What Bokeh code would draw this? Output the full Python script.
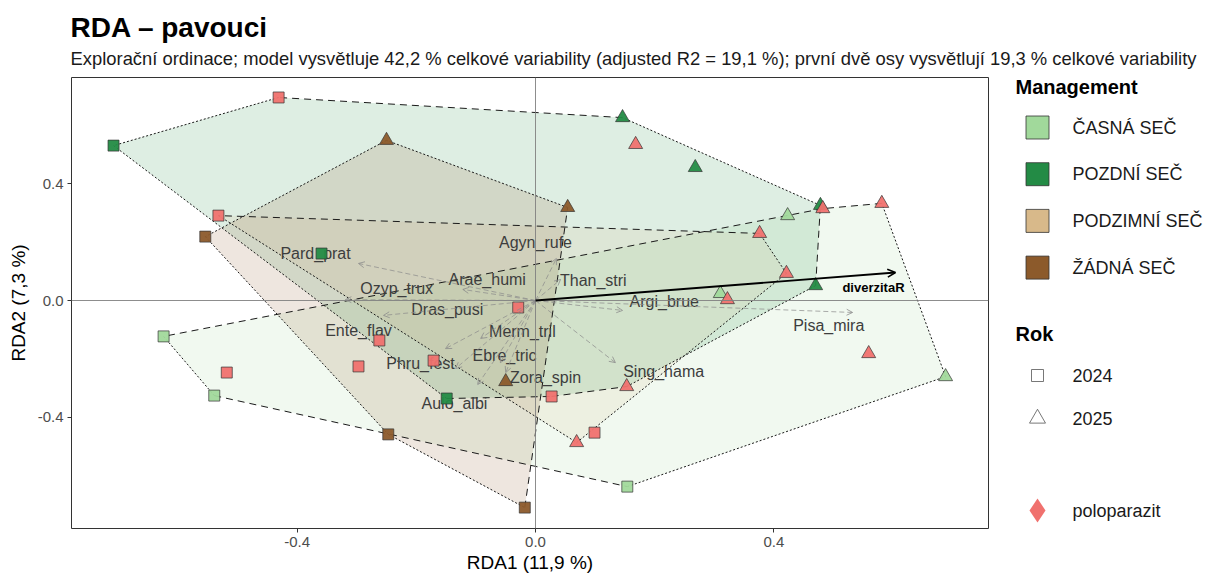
import math
from bokeh.plotting import figure
from bokeh.models import Range1d, FixedTicker, Span, Arrow, OpenHead, ColumnDataSource
from bokeh.layouts import column, row
from bokeh.embed import file_html
from bokeh.resources import INLINE
from bokeh.core.properties import value

FONT = "Liberation Sans"

# ---------------- data ----------------
title = "RDA – pavouci"
subtitle = ("Explorační ordinace; model vysvětluje 42,2 % celkové variability "
            "(adjusted R2 = 19,1 %); první dvě osy vysvětlují 19,3 % celkové variability")
x_title = "RDA1 (11,9 %)"
y_title = "RDA2 (7,3 %)"

management = ["ČASNÁ SEČ", "POZDNÍ SEČ", "PODZIMNÍ SEČ", "ŽÁDNÁ SEČ"]
man_colors = ["#A1D99B", "#238B45", "#D8B98A", "#8C5A2B"]
years = ["2024", "2025"]
pp_name = "poloparazit"
pp_color = "#F0716E"

# site scores (management index, year, semiparasite present, RDA1, RDA2)
site_mgmt = [0, 0, 0, 0, 0, 0, 0, 0, 0, 0, 0,
             1, 1, 1, 1, 1, 1, 1, 1, 1, 1, 1,
             2, 2, 2, 2, 2, 2,
             3, 3, 3, 3, 3, 3, 3, 3, 3]
site_year = ["2024", "2024", "2024", "2025", "2025", "2025", "2024", "2024", "2025", "2025", "2025",
             "2024", "2024", "2024", "2025", "2025", "2025", "2025", "2024", "2024", "2025", "2025",
             "2024", "2024", "2025", "2025", "2025", "2025",
             "2024", "2024", "2024", "2025", "2025", "2025", "2024", "2024", "2024"]
site_pp = [0, 0, 0, 0, 0, 0, 1, 1, 1, 1, 1,
           0, 0, 0, 0, 0, 0, 0, 1, 1, 1, 1,
           1, 1, 1, 1, 1, 1,
           0, 0, 0, 0, 0, 0, 1, 1, 1]
site_x = [-0.624, -0.539, 0.154, 0.423, 0.310, 0.688, -0.518, 0.099, 0.559, 0.581, 0.482,
          -0.708, -0.359, -0.149, 0.146, 0.268, 0.470, 0.478, -0.431, 0.027, 0.153, 0.168,
          -0.532, -0.029, 0.376, 0.421, 0.322, 0.069,
          -0.554, -0.247, -0.018, -0.250, 0.054, -0.050, -0.262, -0.171, -0.297]
site_y = [-0.123, -0.326, -0.638, 0.291, 0.024, -0.261, -0.247, -0.453, -0.182, 0.333, 0.315,
          0.531, 0.161, -0.336, 0.627, 0.456, 0.051, 0.326, 0.696, -0.329, -0.295, 0.535,
          0.291, -0.024, 0.230, 0.093, 0.003, -0.487,
          0.219, -0.459, -0.710, 0.549, 0.319, -0.278, -0.137, -0.206, -0.226]

# species scores (arrow tips) and label positions
species = ["Agyn_rufe", "Pard_prat", "Arae_humi", "Than_stri", "Ozyp_trux", "Argi_brue",
           "Dras_pusi", "Ente_flav", "Merm_tril", "Pisa_mira", "Ebre_tric", "Phru_fest",
           "Zora_spin", "Sing_hama", "Aulo_albi"]
sp_x = [0.035, -0.297, -0.122, 0.042, -0.319, 0.146, -0.255, -0.151, -0.092, 0.532,
        -0.059, -0.134, -0.050, 0.134, -0.097]
sp_y = [0.144, 0.127, 0.038, 0.072, 0.003, -0.034, -0.051, -0.165, -0.130, -0.041,
        -0.213, -0.233, -0.247, -0.213, -0.288]
sp_lab_x = [0.000, -0.369, -0.081, 0.097, -0.233, 0.216, -0.148, -0.297, -0.022, 0.492,
            -0.052, -0.193, 0.017, 0.215, -0.136]
sp_lab_y = [0.199, 0.161, 0.072, 0.069, 0.041, -0.003, -0.031, -0.103, -0.106, -0.086,
            -0.189, -0.216, -0.264, -0.243, -0.353]

env_name = ["diverzitaR"]
env_x = [0.604]
env_y = [0.096]
env_lab_x = [0.567]
env_lab_y = [0.045]

x_ticks = [-0.4, 0.0, 0.4]
y_ticks = [-0.4, 0.0, 0.4]
X0, X1 = -0.7785, 0.760
Y0, Y1 = -0.7816, 0.7645

# ---------------- layout sizes ----------------
TOTAL_W = 1207
TITLE_H = 70
MAIN_W = 996
MAIN_H = 507
LEG_W = TOTAL_W - MAIN_W
ML, MR, MT, MB = 71, 8, 7, 49
FRAME_W = MAIN_W - ML - MR
FRAME_H = MAIN_H - MT - MB


def blank_figure(w, h):
    f = figure(width=w, height=h, x_range=Range1d(0, w), y_range=Range1d(h, 0),
               toolbar_location=None, output_backend="svg", title=None,
               x_axis_location=None, y_axis_location=None, frame_align=False,
               min_border_left=0, min_border_right=0, min_border_top=0, min_border_bottom=0)
    f.grid.visible = False
    f.outline_line_color = None
    return f


# ---------------- title figure ----------------
tf = blank_figure(TOTAL_W, TITLE_H)
tf.text(x=[70], y=[27], text=[title], text_font=value(FONT), text_font_style="bold",
        text_font_size="28px", text_color="#000000", text_baseline="middle")
tf.text(x=[70], y=[58], text=[subtitle], text_font=value(FONT),
        text_font_size="18.4px", text_color="#1a1a1a", text_baseline="middle")

# ---------------- main figure ----------------
p = figure(width=MAIN_W, height=MAIN_H, x_range=Range1d(X0, X1), y_range=Range1d(Y0, Y1),
           toolbar_location=None, output_backend="svg", title=None, frame_align=False,
           min_border_left=ML, min_border_right=MR, min_border_top=MT, min_border_bottom=MB)
p.grid.visible = False
p.outline_line_color = "#333333"
p.outline_line_width = 1
p.background_fill_color = "white"
p.border_fill_color = "white"

for ax, ticks in ((p.xaxis, x_ticks), (p.yaxis, y_ticks)):
    ax.ticker = FixedTicker(ticks=ticks)
    ax.major_label_overrides = {t: f"{t:.1f}" for t in ticks}
    ax.axis_line_color = None
    ax.major_tick_line_color = "#333333"
    ax.major_tick_out = 4
    ax.major_tick_in = 0
    ax.minor_tick_line_color = None
    ax.major_label_text_font = FONT
    ax.major_label_text_font_size = "15px"
    ax.major_label_text_color = "#4d4d4d"
    ax.major_label_standoff = 4
    ax.axis_label_text_font = FONT
    ax.axis_label_text_font_size = "19px"
    ax.axis_label_text_font_style = "normal"
    ax.axis_label_text_color = "#000000"
    ax.axis_label_standoff = 2
p.yaxis.axis_label_standoff = 6
p.xaxis.axis_label = x_title
p.yaxis.axis_label = y_title


def convex_hull(pts):
    pts = sorted(set(pts))
    if len(pts) <= 2:
        return pts

    def cross(o, a, b):
        return (a[0] - o[0]) * (b[1] - o[1]) - (a[1] - o[1]) * (b[0] - o[0])

    lower = []
    for q in pts:
        while len(lower) >= 2 and cross(lower[-2], lower[-1], q) <= 0:
            lower.pop()
        lower.append(q)
    upper = []
    for q in reversed(pts):
        while len(upper) >= 2 and cross(upper[-2], upper[-1], q) <= 0:
            upper.pop()
        upper.append(q)
    return lower[:-1] + upper[:-1]


sx = FRAME_W / (X1 - X0)
sy = FRAME_H / (Y1 - Y0)
dash_xs, dash_ys, dot_xs, dot_ys = [], [], [], []
for gi, col in enumerate(man_colors):
    pts = [(x, y) for x, y, m in zip(site_x, site_y, site_mgmt) if m == gi]
    h = convex_hull(pts)
    p.patch([q[0] for q in h], [q[1] for q in h], fill_color=col, fill_alpha=0.15, line_color=None)
    for i in range(len(h)):
        a, b = h[i], h[(i + 1) % len(h)]
        ang = math.degrees(math.atan2(abs((b[1] - a[1]) * sy), abs((b[0] - a[0]) * sx)))
        near_axis = min(ang, 90 - ang) < 15
        if near_axis:
            dash_xs.append([a[0], b[0]]); dash_ys.append([a[1], b[1]])
        else:
            dot_xs.append([a[0], b[0]]); dot_ys.append([a[1], b[1]])
p.multi_line(dash_xs, dash_ys, line_color="#1a1a1a", line_width=1.0, line_dash="7 5")
p.multi_line(dot_xs, dot_ys, line_color="#1a1a1a", line_width=1.0, line_dash="2 2")

p.add_layout(Span(location=0, dimension="width", line_color="#808080", line_width=0.9))
p.add_layout(Span(location=0, dimension="height", line_color="#808080", line_width=0.9))

# species arrows
sp_src = ColumnDataSource(dict(x0=[0.0] * len(species), y0=[0.0] * len(species), x1=sp_x, y1=sp_y,
                               lx=sp_lab_x, ly=sp_lab_y, name=species))
p.add_layout(Arrow(end=OpenHead(size=6, line_color="#8c8c8c", line_width=0.8),
                   x_start="x0", y_start="y0", x_end="x1", y_end="y1", source=sp_src,
                   line_color="#8c8c8c", line_width=0.8, line_dash="5 3", line_alpha=0.9))
# environmental arrow
env_src = ColumnDataSource(dict(x0=[0.0], y0=[0.0], x1=env_x, y1=env_y, lx=env_lab_x, ly=env_lab_y,
                                name=env_name))
p.add_layout(Arrow(end=OpenHead(size=8, line_color="#000000", line_width=1.6),
                   x_start="x0", y_start="y0", x_end="x1", y_end="y1", source=env_src,
                   line_color="#000000", line_width=1.8))

p.text(x="lx", y="ly", text="name", source=sp_src, text_font=value(FONT), text_font_size="16px",
       text_color="#3d3d3d", text_align="center", text_baseline="middle")
p.text(x="lx", y="ly", text="name", source=env_src, text_font=value(FONT), text_font_size="13px",
       text_font_style="bold", text_color="#000000", text_align="center", text_baseline="middle")

# site points
for want_pp in (0, 1):
    xs, ys, mk, sz, fc = [], [], [], [], []
    for x, y, m, yr, pp in zip(site_x, site_y, site_mgmt, site_year, site_pp):
        if pp != want_pp:
            continue
        xs.append(x); ys.append(y)
        mk.append("square" if yr == years[0] else "triangle")
        sz.append(11 if yr == years[0] else 14)
        fc.append(pp_color if pp else man_colors[m])
    src = ColumnDataSource(dict(x=xs, y=ys, marker=mk, size=sz, fill=fc))
    p.scatter(x="x", y="y", marker="marker", size="size", fill_color="fill", fill_alpha=0.95,
              line_color="#333333", line_width=0.7, source=src)

# ---------------- legend figure ----------------
lf = blank_figure(LEG_W, MAIN_H)
KX, LX = 41, 76
lf.text(x=[19], y=[16], text=["Management"], text_font=value(FONT), text_font_style="bold",
        text_font_size="20px", text_color="#000000", text_baseline="middle")
ky = [57 + i * 46.7 for i in range(len(management))]
lf.scatter(x=[KX] * len(management), y=ky, marker="square", size=23, fill_color=man_colors,
           line_color="#333333", line_width=0.8)
lf.text(x=[LX] * len(management), y=ky, text=management, text_font=value(FONT),
        text_font_size="18px", text_color="#1a1a1a", text_baseline="middle")
lf.text(x=[19], y=[263], text=["Rok"], text_font=value(FONT), text_font_style="bold",
        text_font_size="20px", text_color="#000000", text_baseline="middle")
ry = [305, 348]
lf.scatter(x=[KX, KX], y=ry, marker=["square", "triangle"], size=[12, 16], fill_color=None,
           line_color="#555555", line_width=0.8)
lf.text(x=[LX, LX], y=ry, text=years, text_font=value(FONT), text_font_size="18px",
        text_color="#1a1a1a", text_baseline="middle")
lf.scatter(x=[KX], y=[440], marker="diamond", size=24, fill_color=pp_color, line_color=None)
lf.text(x=[LX], y=[440], text=[pp_name], text_font=value(FONT), text_font_size="18px",
        text_color="#1a1a1a", text_baseline="middle")

layout = column(tf, row(p, lf, spacing=0), spacing=0)
open("out.html", "w").write(file_html(layout, INLINE))
